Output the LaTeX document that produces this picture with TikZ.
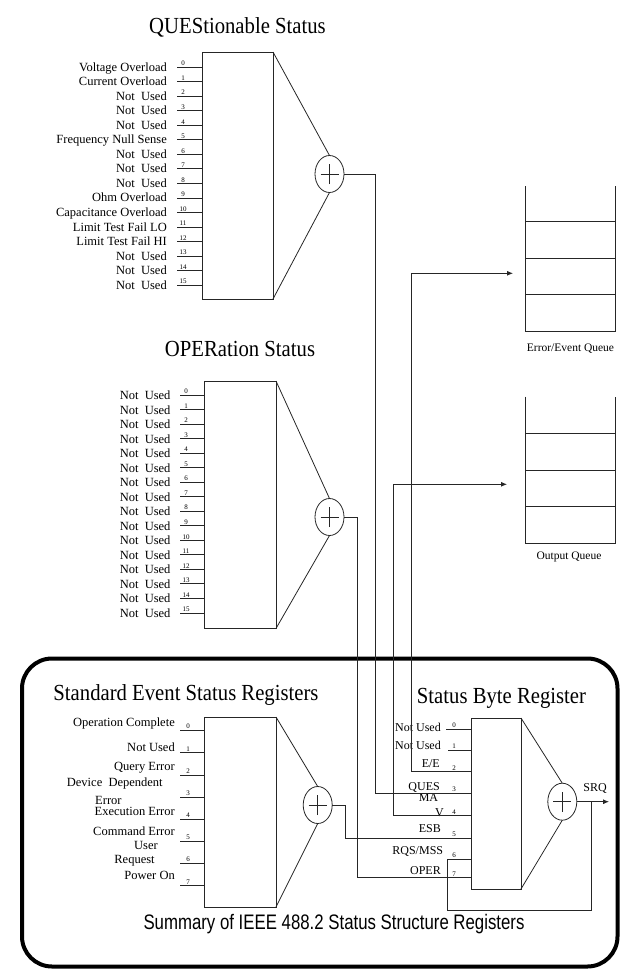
\documentclass[tikz,border=0pt]{standalone}
\usepackage{fontspec}
\setmainfont{Liberation Serif}
\newfontfamily\titlefont{Liberation Serif}[FakeStretch=0.9]
\newfontfamily\capfont{Liberation Sans}[FakeStretch=0.8]
\usetikzlibrary{shapes.geometric,arrows.meta}
\newcommand{\NotUsed}{Not\ \ Used}

\tikzset{
  wire/.style={line width=0.8pt, black!85},
  arrowwire/.style={-{Latex[length=6pt,width=5pt]}},
  regbox/.style={draw=black!85, line width=0.8pt, inner sep=0pt, outer sep=0pt, anchor=north west},
  sumnode/.style={draw=black!85, ellipse, line width=0.8pt, minimum width=29pt, minimum height=37pt,
    inner sep=0pt, outer sep=0pt,
    path picture={\draw[line width=0.6pt, black!85]
      ([xshift=-9pt]path picture bounding box.center) -- ([xshift=9pt]path picture bounding box.center)
      ([yshift=-10pt]path picture bounding box.center) -- ([yshift=10pt]path picture bounding box.center);}},
  bitlbl/.style={anchor=base east, inner sep=0pt, font=\fontsize{12.5}{13}\selectfont},
  bitnum/.style={anchor=south, inner sep=0.5pt, font=\fontsize{7}{7}\selectfont},
  regtitle/.style={anchor=base, inner sep=0pt, font=\titlefont\fontsize{23}{25}\selectfont},
  qlbl/.style={inner sep=0pt, font=\fontsize{11.5}{12}\selectfont},
}

\begin{document}
\begin{tikzpicture}[x=1pt, y=-1pt]
  \useasboundingbox (0,0) rectangle (621,972);

  % -- QUEStionable Status --
  \node[regtitle] (quest) at (237.5,33) {QUEStionable Status};
  \node[regbox, minimum width=71pt, minimum height=247pt] (ques) at (202,52) {};
  \node[sumnode] (qsum) at (329.5,174) {};
  \draw[wire] (ques.north east) -- (qsum.north);
  \draw[wire] (ques.south east) -- (qsum.south);
  \foreach \lbl [count=\i from 0] in {Voltage Overload, Current Overload, \NotUsed, \NotUsed, \NotUsed,
      Frequency Null Sense, \NotUsed, \NotUsed, \NotUsed, Ohm Overload, Capacitance Overload,
      Limit Test Fail LO, Limit Test Fail HI, \NotUsed, \NotUsed, \NotUsed} {
    \pgfmathsetmacro\yy{67+14.55*\i}
    \coordinate (qb\i) at (177,\yy);
    \draw[wire] (qb\i) -- (qb\i -| ques.west);
    \node[bitlbl] (ql\i) at (167,\yy+4) {\lbl};
    \node[bitnum] (qn\i) at (183,\yy-0.5) {\i};
  }

  % -- OPERation Status --
  \node[regtitle] (opert) at (240,356.7) {OPERation Status};
  \node[regbox, minimum width=72pt, minimum height=247.5pt] (oper) at (204,381) {};
  \node[sumnode] (osum) at (329.5,517) {};
  \draw[wire] (oper.north east) -- (osum.north);
  \draw[wire] (oper.south east) -- (osum.south);
  \foreach \i in {0,...,15} {
    \pgfmathsetmacro\yy{395+14.53*\i}
    \coordinate (ob\i) at (180,\yy);
    \draw[wire] (ob\i) -- (ob\i -| oper.west);
    \node[bitlbl] (ol\i) at (170.7,\yy+4.5) {\NotUsed};
    \node[bitnum] (on\i) at (186,\yy-0.5) {\i};
  }

  % -- Error/Event Queue --
  \draw[wire] (525,186) -- (525,331) -- (615,331) -- (615,186);
  \foreach \yy in {221.7,258.3,294.3}
    \draw[wire] (525,\yy) -- (615,\yy);
  \node[qlbl] (eql) at (570.5,348.3) {Error/Event Queue};
  \coordinate (eqin) at (513,273.3);

  % -- Output Queue --
  \draw[wire] (525,396.7) -- (525,543.3) -- (615,543.3) -- (615,396.7);
  \foreach \yy in {433.3,470,506.7}
    \draw[wire] (525,\yy) -- (615,\yy);
  \node[qlbl] (oql) at (569,556.7) {Output Queue};
  \coordinate (oqin) at (507,484.3);

  % -- Frame --
  \draw[line width=4pt, rounded corners=30pt] (22,658.5) rectangle (617.5,966.5);
  \node[anchor=base, inner sep=0pt, font=\capfont\fontsize{21}{22}\selectfont] (summ) at (334,929)
    {Summary of IEEE 488.2 Status Structure Registers};

  % -- Standard Event Status Registers --
  \node[regtitle] (stdt) at (186,700) {Standard Event Status Registers};
  \node[regbox, minimum width=72pt, minimum height=190pt] (std) at (204,717) {};
  \node[sumnode] (ssum) at (317.7,805) {};
  \draw[wire] (std.north east) -- (ssum.north);
  \draw[wire] (std.south east) -- (ssum.south);
  \foreach \i in {0,...,7} {
    \pgfmathsetmacro\yy{730.7+22.15*\i}
    \coordinate (eb\i) at (180,\yy);
    \draw[wire] (eb\i) -- (eb\i -| std.west);
    \node[bitnum] (en\i) at (188,\yy-1) {\i};
  }
  \node[bitlbl] (el0) at (175,726) {Operation Complete};
  \node[bitlbl] (el1) at (175,751.5) {Not Used};
  \node[bitlbl] (el2) at (175,770.5) {Query Error};
  \node[bitlbl, anchor=base west] (el3a) at (66.7,786) {Device\ \ Dependent};
  \node[bitlbl, anchor=base west] (el3b) at (95,804) {Error};
  \node[bitlbl] (el4) at (175,815) {Execution Error};
  \node[bitlbl] (el5) at (175,835.5) {Command Error};
  \node[bitlbl, anchor=base] (el5b) at (146,849) {User};
  \node[bitlbl, anchor=base] (el6) at (134.5,863.5) {Request};
  \node[bitlbl] (el7) at (175,879) {Power On};

  % -- Status Byte Register --
  \node[regtitle] (stbt) at (501.5,703.3) {Status Byte Register};
  \node[regbox, minimum width=50pt, minimum height=171pt] (stb) at (471,718) {};
  \node[sumnode] (bsum) at (562.3,801.7) {};
  \draw[wire] (stb.north east) -- (bsum.north);
  \draw[wire] (stb.south east) -- (bsum.south);
  \foreach \yy [count=\i from 0] in {729,750.3,771.7,793.3,815.7,838.3,859,877.7} {
    \coordinate (bb\i) at (471,\yy);
    \node[bitnum] (bn\i) at (454,\yy-1) {\i};
  }
  \coordinate (bf0) at (446,729);
  \coordinate (bf1) at (448,750.3);
  \draw[wire] (bf0) -- (bb0);
  \draw[wire] (bf1) -- (bb1);
  \node[bitlbl, font=\fontsize{12}{12}\selectfont] (bl0) at (441,731) {Not Used};
  \node[bitlbl, font=\fontsize{12}{12}\selectfont] (bl1) at (441,749.3) {Not Used};
  \node[bitlbl, font=\fontsize{12}{12}\selectfont] (bl2) at (440,767.7) {E/E};
  \node[bitlbl, font=\fontsize{12}{12}\selectfont] (bl3) at (440,790.7) {QUES};
  \node[bitlbl, font=\fontsize{12}{12}\selectfont] (bl4a) at (438.3,801.3) {MA};
  \node[bitlbl, font=\fontsize{12}{12}\selectfont, anchor=base] (bl4b) at (439.5,816) {V};
  \node[bitlbl, font=\fontsize{12}{12}\selectfont] (bl5) at (441,832.7) {ESB};
  \node[bitlbl, font=\fontsize{12}{12}\selectfont] (bl6) at (443.3,854.3) {RQS/MSS};
  \node[bitlbl, font=\fontsize{12}{12}\selectfont] (bl7) at (441,874.3) {OPER};

  % -- Summary wiring --
  \draw[wire] (qsum.east) -- (375,174) |- (bb3);
  \draw[wire] (osum.east) -- (357,517) |- (bb7);
  \draw[wire] (ssum.east) -- (345.7,805) |- (bb5);
  \draw[wire, arrowwire] (bb2) -- (411,771.7) |- (eqin);
  \draw[wire, arrowwire] (bb4) -- (393,815.7) |- (oqin);

  % -- Service request --
  \coordinate (srqend) at (609,801.7);
  \coordinate (srqtap) at (591.7,801.7);
  \draw[wire, arrowwire] (bsum.east) -- (srqend);
  \draw[wire] (bb6) -- (447,859) -- (447,910.7) -| (srqtap);
  \node[anchor=base, inner sep=0pt, font=\fontsize{12}{12}\selectfont] (srq) at (595,791.7) {SRQ};

\end{tikzpicture}
\end{document}
